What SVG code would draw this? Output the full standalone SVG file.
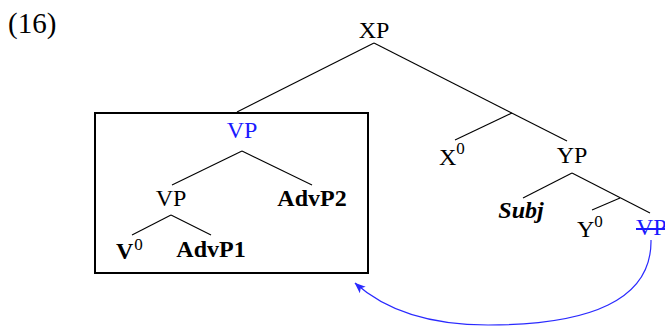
<svg xmlns="http://www.w3.org/2000/svg" width="665" height="326" viewBox="0 0 665 326">
  <style>
    text { font-family: "Liberation Serif", "Times New Roman", serif; font-size: 24px; fill: #000; }
    .b { font-weight: bold; }
    .bi { font-weight: bold; font-style: italic; }
    .blue { fill: #1a1aff; }
    .sup { font-size: 17px; font-weight: normal; }
    .edge { stroke: #000; stroke-width: 1.1; fill: none; }
    .move { stroke: #2a2aff; stroke-width: 1.2; fill: none; }
  </style>
  <defs>
    <marker id="arrow" markerUnits="userSpaceOnUse" viewBox="0 0 10 8" markerWidth="11" markerHeight="9" refX="9.5" refY="4" orient="auto">
      <path d="M0,0 L10,4 L0,8 L2.5,4 z" fill="#2a2aff"/>
    </marker>
  </defs>

  <rect width="665" height="326" fill="#fff"/>

  <!-- example number -->
  <text x="8" y="33" style="font-size:29px">(16)</text>

  <!-- tree branches -->
  <g id="connectors">
    <line class="edge" x1="374" y1="43" x2="237" y2="112"/>
    <line class="edge" x1="374" y1="43" x2="567" y2="141"/>
    <line class="edge" x1="512" y1="113" x2="455" y2="140"/>
    <line class="edge" x1="572" y1="173" x2="523" y2="198"/>
    <line class="edge" x1="572" y1="173" x2="650" y2="213"/>
    <line class="edge" x1="620" y1="198" x2="592" y2="210"/>
    <line class="edge" x1="242" y1="151" x2="172" y2="185"/>
    <line class="edge" x1="242" y1="151" x2="312" y2="185"/>
    <line class="edge" x1="171" y1="215" x2="132" y2="235"/>
    <line class="edge" x1="171" y1="215" x2="211" y2="235"/>
    <!-- movement arrow from the trace back to the fronted VP -->
    <path class="move" d="M651,240 C652,300 590,325 488,325 C430,325 385,310 355,283" marker-end="url(#arrow)"/>
  </g>

  <!-- box round the fronted VP -->
  <rect id="box" x="95" y="113" width="273" height="160" fill="none" stroke="#000" stroke-width="2"/>

  <g id="XP"><text x="374" y="38" text-anchor="middle">XP</text></g>
  <g id="VP-top"><text class="blue" x="242" y="138" text-anchor="middle">VP</text></g>
  <g id="VP-low"><text x="171" y="206" text-anchor="middle">VP</text></g>
  <g id="AdvP2"><text class="b" x="312" y="206" text-anchor="middle">AdvP2</text></g>
  <g id="V0"><text class="b" x="116" y="259">V<tspan class="sup" dx="1" dy="-9">0</tspan></text></g>
  <g id="AdvP1"><text class="b" x="211" y="257" text-anchor="middle">AdvP1</text></g>
  <g id="X0"><text x="439" y="165">X<tspan class="sup" dx="0" dy="-11">0</tspan></text></g>
  <g id="YP"><text x="572" y="163" text-anchor="middle">YP</text></g>
  <g id="Subj"><text class="bi" x="521" y="218" text-anchor="middle">Subj</text></g>
  <g id="Y0"><text x="577" y="237">Y<tspan class="sup" dx="0" dy="-10">0</tspan></text></g>
  <g id="VP-trace">
    <text class="blue" x="636" y="235">VP</text>
    <line x1="636" y1="229" x2="665" y2="229" stroke="#1a1aff" stroke-width="2"/>
  </g>
</svg>
